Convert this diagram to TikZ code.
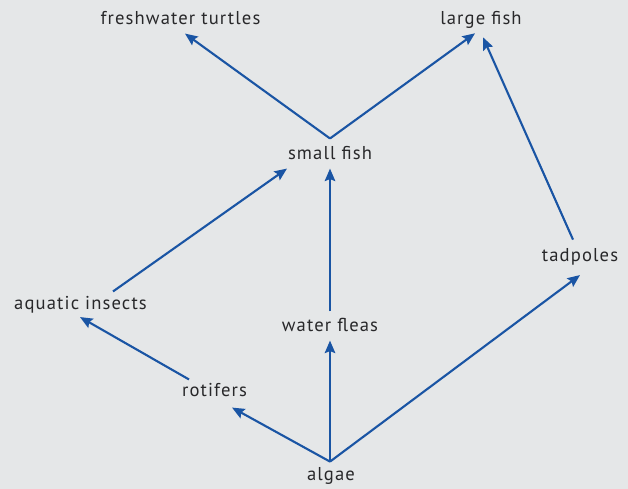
\documentclass[tikz,border=0pt]{standalone}
\usepackage{fontspec}
\setmainfont{PT Sans}[LetterSpace=6]
\usepackage{tikz}
\usetikzlibrary{arrows.meta,calc}
\definecolor{pond}{RGB}{229,231,232}
\definecolor{flow}{RGB}{26,85,164}
\definecolor{ink}{RGB}{40,40,42}

\begin{document}
\begin{tikzpicture}[x=0.02cm, y=-0.02cm, font=\fontsize{10.6}{12}\selectfont,
    lbl/.style={text=ink, anchor=base, inner sep=0pt},
    eat/.style={flow, line width=1.2pt, -{Stealth[length=0.25cm, width=0.21cm, inset=0.04cm]}}]
        \fill[pond] (0,0) rectangle (628,489);
        \node[lbl] (turtles) at (180.5,25) {freshwater turtles};
        \node[lbl] (largefish) at (481,25) {large fish};
        \node[lbl] (smallfish) at (330,160) {small fish};
        \node[lbl] (tadpoles) at (580,261) {tadpoles};
        \node[lbl] (insects) at (80.5,309) {aquatic insects};
        \node[lbl] (fleas) at (330,331) {water fleas};
        \node[lbl] (rotifers) at (214.5,396) {rotifers};
        \node[lbl] (algae) at (331,480) {algae};
        % who eats whom
        \draw[eat] ($(algae.north)+(-1,-5)$) -- ($(rotifers.south)+(17.5,11)$);
        \draw[eat] ($(algae.north)+(-1,-5)$) -- ($(fleas.south)+(0,9)$);
        \draw[eat] ($(algae.north)+(-1,-5)$) -- ($(tadpoles.south)+(0,10)$);
        \draw[eat] ($(rotifers.north)+(-25.5,-3)$) -- ($(insects.south)+(-0.5,4)$);
        \draw[eat] ($(insects.north)+(32.5,-4)$) -- ($(smallfish.south)+(-43,8)$);
        \draw[eat] ($(fleas.north)+(0,-6)$) -- ($(smallfish.south)+(0,8)$);
        \draw[eat] ($(smallfish.north)+(0,-8)$) -- ($(turtles.south)+(4.5,8)$);
        \draw[eat] ($(smallfish.north)+(0,-8)$) -- ($(largefish.south)+(-6,4)$);
        \draw[eat] ($(tadpoles.north)+(-7,-8)$) -- ($(largefish.south)+(2,8)$);
      \end{tikzpicture}
\end{document}
